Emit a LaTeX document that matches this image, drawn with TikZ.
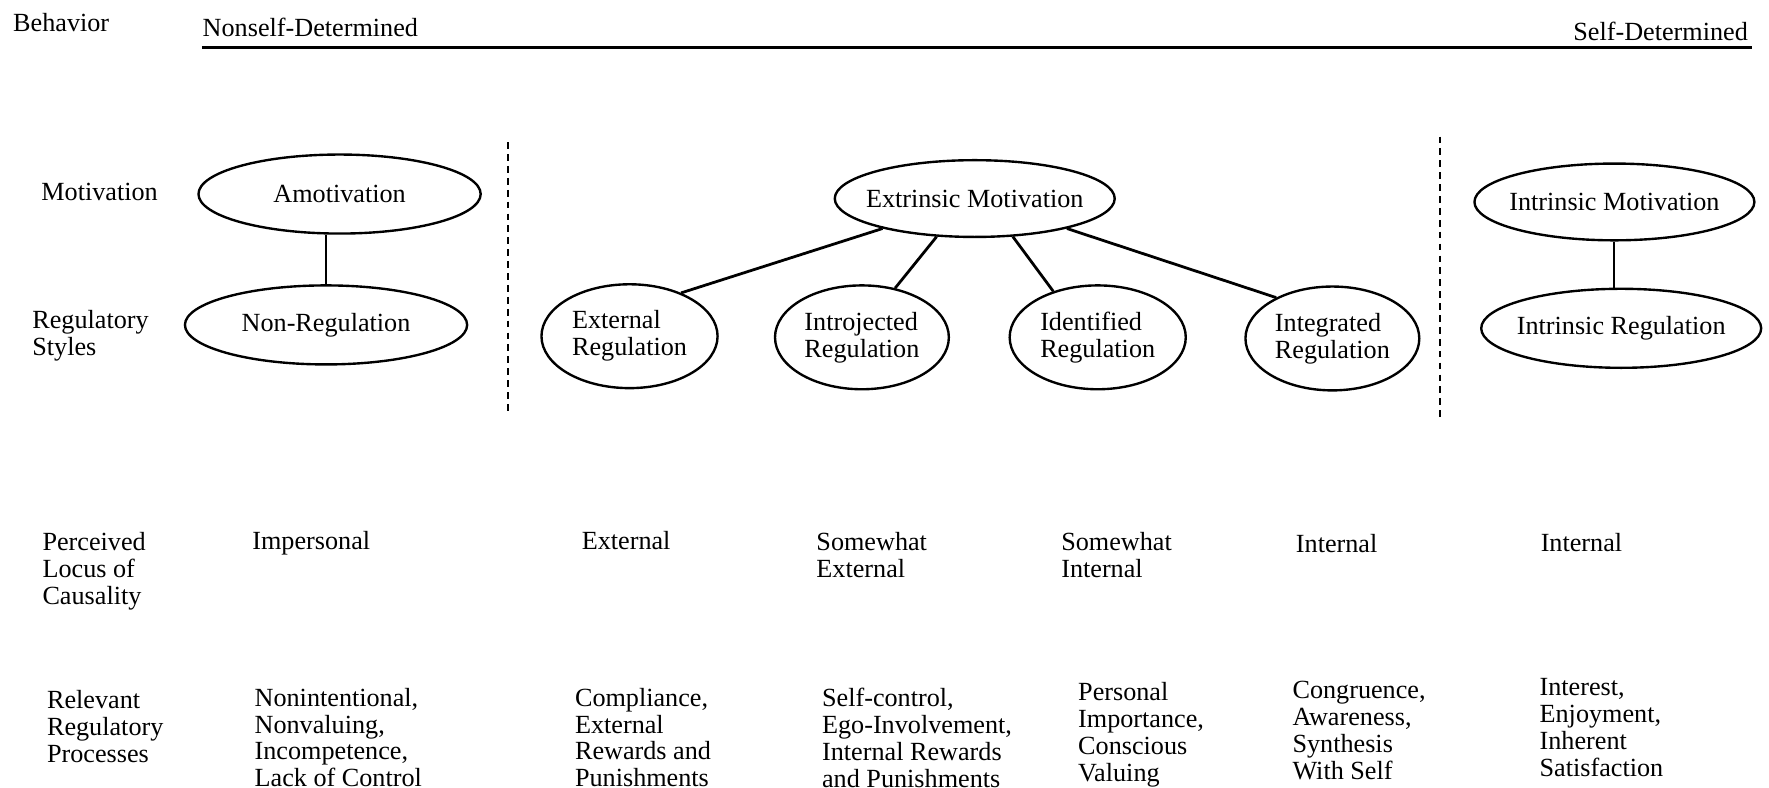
\documentclass[tikz,border=0pt]{standalone}
\usepackage{fontspec}
\setmainfont{Liberation Serif}
\usetikzlibrary{shapes.geometric}
\tikzset{
  oval/.style={ellipse, draw, line width=0.6pt, inner xsep=-4mm, inner ysep=0pt, align=left},
  txt/.style={inner sep=0pt, anchor=west},
  col/.style={inner sep=0pt, anchor=north west, align=left},
  link/.style={line width=0.7pt},
  sep/.style={line width=0.5pt, dash pattern=on 1.7pt off 1.3pt}
}

\begin{document}
\begin{tikzpicture}[x=0.01cm, y=-0.01cm, font=\fontsize{6.6}{6.8}\selectfont]
\useasboundingbox (0,0) rectangle (1568,697.6);
% header
\node[txt] (beh) at (11,20) {Behavior};
\node[txt] (nsd) at (179,24) {Nonself-Determined};
\node[txt, anchor=east] (sd) at (1550,28) {Self-Determined};
\coordinate (rl) at (179,42);
\coordinate (rr) at (1553,42);
\draw[line width=0.7pt] (rl) -- (rr);
% row labels
\node[txt] (mot) at (36,170) {Motivation};
\node[col] (reg) at (28,274) {Regulatory\\Styles};
\node[col] (plc) at (37,471) {Perceived\\Locus of\\Causality};
\node[col] (rrp) at (41,611) {Relevant\\Regulatory\\Processes};
% separators
\coordinate (d1t) at (450,126);
\coordinate (d1b) at (450,365);
\coordinate (d2t) at (1276,121);
\coordinate (d2b) at (1276,372);
\draw[sep] (d1t) -- (d1b);
\draw[sep] (d2t) -- (d2b);
% ellipses
\node[oval, minimum width=2.5cm, minimum height=0.7cm] (amo) at (301,172) {Amotivation};
\node[oval, minimum width=2.5cm, minimum height=0.7cm] (nreg) at (289,288) {Non-Regulation};
\node[oval, minimum width=2.48cm, minimum height=0.68cm] (ext) at (864,176) {Extrinsic Motivation};
\node[oval, minimum width=1.56cm, minimum height=0.92cm] (extreg) at (558,298) {External\\Regulation};
\node[oval, minimum width=1.54cm, minimum height=0.92cm] (intro) at (764,299) {Introjected\\Regulation};
\node[oval, minimum width=1.56cm, minimum height=0.92cm] (ident) at (973,299) {Identified\\Regulation};
\node[oval, minimum width=1.54cm, minimum height=0.92cm] (integ) at (1181,300) {Integrated\\Regulation};
\node[oval, minimum width=2.48cm, minimum height=0.68cm] (imot) at (1431,179) {Intrinsic Motivation};
\node[oval, minimum width=2.48cm, minimum height=0.7cm] (ireg) at (1437,291) {Intrinsic Regulation};
% connectors
\draw[line width=0.5pt] (nreg.north |- amo.south) -- (nreg.north);
\draw[line width=0.5pt] (imot.south) -- (imot.south |- ireg.north);
\draw[link] (ext.-162) -- (extreg.40);
\draw[link] (ext.-135) -- (intro.56);
\draw[link] (ext.-45) -- (ident.134);
\draw[link] (ext.-18) -- (integ.144);
% locus of causality
\foreach \nm/\x/\y/\t in {lci/223/470/{Impersonal}, lce/515/470/{External},
  lcse/723/471/{Somewhat\\External}, lcsi/940/471/{Somewhat\\Internal},
  lcin/1148/473/{Internal}, lcit/1365/472/{Internal}}
  \node[col] (\nm) at (\x,\y) {\t};
% regulatory processes
\foreach \nm/\x/\y/\t in {pa/225/609/{Nonintentional,\\Nonvaluing,\\Incompetence,\\Lack of Control},
  pb/509/609/{Compliance,\\External\\Rewards and\\Punishments},
  pc/728/609/{Self-control,\\Ego-Involvement,\\Internal Rewards\\and Punishments},
  pd/955/604/{Personal\\Importance,\\Conscious\\Valuing},
  pe/1145/603/{Congruence,\\Awareness,\\Synthesis\\With Self},
  pf/1364/601/{Interest,\\Enjoyment,\\Inherent\\Satisfaction}}
  \node[col] (\nm) at (\x,\y) {\t};
\end{tikzpicture}
\end{document}
